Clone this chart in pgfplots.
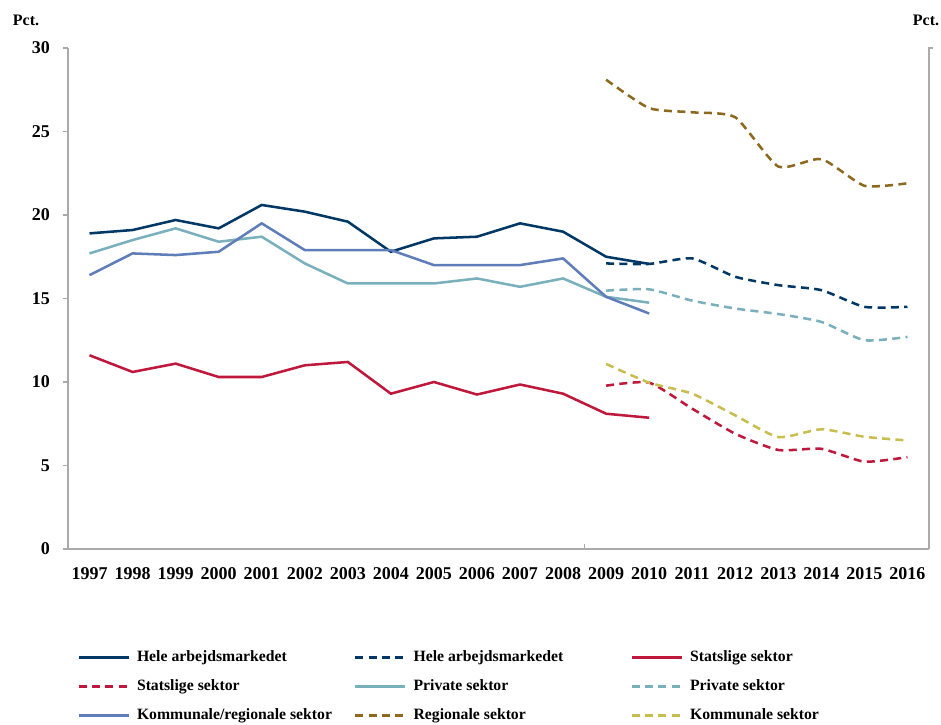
\documentclass[border=0pt]{standalone}
\usepackage{fontspec}
\setmainfont{Liberation Serif}
\usepackage{pgfplots}
\usepackage{pgfplotstable}
\pgfplotsset{compat=1.18}

\definecolor{cNavy}{RGB}{0,56,101}
\definecolor{cTeal}{RGB}{122,176,188}
\definecolor{cBlue}{RGB}{95,125,185}
\definecolor{cRed}{RGB}{190,25,60}
\definecolor{cBrown}{RGB}{140,105,30}
\definecolor{cOlive}{RGB}{200,190,80}
\definecolor{cAxis}{RGB}{170,170,170}

% solid series 1997-2010
\pgfplotstableread{
year hele stat priv komreg
1997 18.9 11.6 17.7 16.4
1998 19.1 10.6 18.5 17.7
1999 19.7 11.1 19.2 17.6
2000 19.2 10.3 18.4 17.8
2001 20.6 10.3 18.7 19.5
2002 20.2 11.0 17.1 17.9
2003 19.6 11.2 15.9 17.9
2004 17.8 9.3 15.9 17.9
2005 18.6 10.0 15.9 17.0
2006 18.7 9.25 16.2 17.0
2007 19.5 9.85 15.7 17.0
2008 19.0 9.3 16.2 17.4
2009 17.5 8.1 15.1 15.1
2010 17.07 7.86 14.75 14.1
}\solid

% dashed series 2009-2016
\pgfplotstableread{
year hele stat priv reg kom
2009 17.1 9.78 15.47 28.1 11.08
2010 17.07 9.96 15.55 26.4 9.96
2011 17.4 8.4 14.87 26.15 9.3
2012 16.3 6.9 14.4 25.85 8.0
2013 15.8 5.93 14.07 22.9 6.7
2014 15.5 6.0 13.6 23.35 7.17
2015 14.5 5.23 12.5 21.75 6.72
2016 14.5 5.5 12.7 21.9 6.5
}\dashd

\begin{document}
\begin{tikzpicture}
\useasboundingbox (0pt,0pt) rectangle (705.75pt,543pt);
\node[font=\fontsize{12}{12}\selectfont\bfseries] at (19.5pt,528pt) {Pct.};
\node[font=\fontsize{12}{12}\selectfont\bfseries] at (694.5pt,528pt) {Pct.};
\begin{axis}[
  at={(51pt,131.25pt)}, anchor=south west,
  scale only axis, width=645.75pt, height=375.75pt,
  xmin=1996.5, xmax=2016.5, ymin=0, ymax=30,
  axis x line*=bottom, axis y line*=left,
  axis line style={-, draw=cAxis, line width=0.8pt},
  xtick={1997,...,2016}, ytick={0,5,...,30},
  xtick style={draw=none},
  ytick style={draw=cAxis, line width=0.8pt},
  tick align=outside, major tick length=4pt,
  /pgf/number format/assume math mode=true,
  /pgf/number format/1000 sep={},
  tick label style={font=\fontsize{13.5}{13.5}\selectfont\bfseries},
  xticklabel style={yshift=-6pt, text height=9.5pt, text depth=0pt},
  yticklabel style={xshift=-6pt},
  clip=false,
  legend columns=3,
  legend style={at={(0.0110,-0.2023)}, anchor=north west, draw=none, fill=none,
    inner sep=0pt, outer sep=0pt,
    font=\fontsize{11.8}{12}\selectfont\bfseries,
    nodes={inner sep=0pt, text height=8pt, text depth=2.5pt},
    row sep=11.25pt,
    /tikz/every odd column/.style={column sep=5.25pt}},
  legend image code/.code={\draw[#1] (0pt,0pt) -- (37.5pt,0pt);},
  every axis plot/.append style={line width=1.9pt, mark=none},
]
\addplot[cNavy] table[x=year,y=hele] {\solid};
\addlegendentry{\makebox[162.75pt][l]{Hele arbejdsmarkedet}}
\addplot[cNavy, dash pattern=on 6pt off 4pt, smooth, tension=0.35] table[x=year,y=hele] {\dashd};
\addlegendentry{\makebox[162.75pt][l]{Hele arbejdsmarkedet}}
\addplot[cRed] table[x=year,y=stat] {\solid};
\addlegendentry{\makebox[162.75pt][l]{Statslige sektor}}
\addplot[cRed, dash pattern=on 6pt off 4pt, smooth, tension=0.35] table[x=year,y=stat] {\dashd};
\addlegendentry{\makebox[162.75pt][l]{Statslige sektor}}
\addplot[cTeal] table[x=year,y=priv] {\solid};
\addlegendentry{\makebox[162.75pt][l]{Private sektor}}
\addplot[cTeal, dash pattern=on 6pt off 4pt, smooth, tension=0.35] table[x=year,y=priv] {\dashd};
\addlegendentry{\makebox[162.75pt][l]{Private sektor}}
\addplot[cBlue] table[x=year,y=komreg] {\solid};
\addlegendentry{\makebox[162.75pt][l]{Kommunale/regionale sektor}}
\addplot[cBrown, dash pattern=on 6pt off 4pt, smooth, tension=0.35] table[x=year,y=reg] {\dashd};
\addlegendentry{\makebox[162.75pt][l]{Regionale sektor}}
\addplot[cOlive, dash pattern=on 6pt off 4pt, smooth, tension=0.35] table[x=year,y=kom] {\dashd};
\addlegendentry{\makebox[162.75pt][l]{Kommunale sektor}}
\draw[cAxis, line width=0.8pt] (rel axis cs:1,0) -- (rel axis cs:1,1) -- ++(3pt,0pt);
\draw[cAxis, line width=0.8pt] (axis cs:2008.5,0) -- ++(0pt,4pt);
\end{axis}
\end{tikzpicture}
\end{document}
